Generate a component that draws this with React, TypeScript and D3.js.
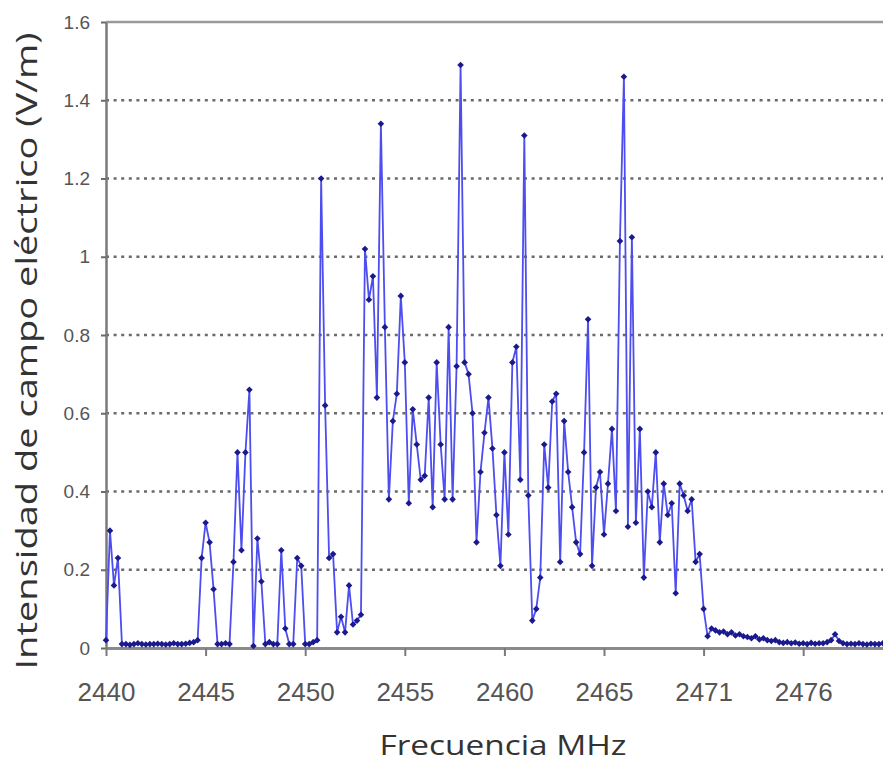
import React, { useRef, useEffect } from "react";
import * as d3 from "d3";

// ---- data, one small array per 5 MHz tick interval (25 samples each) ----
const seg2440 = [
  0.02, 0.3, 0.16, 0.23, 0.01, 0.01, 0.008, 0.01, 0.012, 0.01, 0.009, 0.01, 0.01,
  0.011, 0.01, 0.009, 0.01, 0.012, 0.01, 0.01, 0.011, 0.013, 0.015, 0.02, 0.23,
];
const seg2445 = [
  0.32, 0.27, 0.15, 0.01, 0.01, 0.012, 0.01, 0.22, 0.5, 0.25, 0.5, 0.66, 0.005,
  0.28, 0.17, 0.01, 0.015, 0.01, 0.01, 0.25, 0.05, 0.01, 0.01, 0.23, 0.21,
];
const seg2450 = [
  0.01, 0.01, 0.015, 0.02, 1.2, 0.62, 0.23, 0.24, 0.04, 0.08, 0.04, 0.16, 0.06,
  0.07, 0.085, 1.02, 0.89, 0.95, 0.64, 1.34, 0.82, 0.38, 0.58, 0.65, 0.9,
];
const seg2455 = [
  0.73, 0.37, 0.61, 0.52, 0.43, 0.44, 0.64, 0.36, 0.73, 0.52, 0.38, 0.82, 0.38,
  0.72, 1.49, 0.73, 0.7, 0.6, 0.27, 0.45, 0.55, 0.64, 0.51, 0.34, 0.21,
];
const seg2460 = [
  0.5, 0.29, 0.73, 0.77, 0.43, 1.31, 0.39, 0.07, 0.1, 0.18, 0.52, 0.41, 0.63,
  0.65, 0.22, 0.58, 0.45, 0.36, 0.27, 0.24, 0.5, 0.84, 0.21, 0.41, 0.45,
];
const seg2465 = [
  0.29, 0.42, 0.56, 0.35, 1.04, 1.46, 0.31, 1.05, 0.32, 0.56, 0.18, 0.4, 0.36,
  0.5, 0.27, 0.42, 0.34, 0.37, 0.14, 0.42, 0.39, 0.35, 0.38, 0.22, 0.24,
];
const seg2471 = [
  0.1, 0.03, 0.05, 0.045, 0.04, 0.042, 0.035, 0.04, 0.032, 0.035, 0.03, 0.028,
  0.025, 0.03, 0.022, 0.025, 0.02, 0.018, 0.02, 0.015, 0.013, 0.015, 0.012,
  0.014, 0.011,
];
const seg2476 = [
  0.012, 0.01, 0.013, 0.011, 0.012, 0.012, 0.015, 0.02, 0.035, 0.018, 0.012, 0.01,
  0.011, 0.01, 0.012, 0.01, 0.009, 0.011, 0.01, 0.01, 0.012, 0.01,
];

const series = [
  ...seg2440,
  ...seg2445,
  ...seg2450,
  ...seg2455,
  ...seg2460,
  ...seg2465,
  ...seg2471,
  ...seg2476,
];

const xTickLabels = ["2440", "2445", "2450", "2455", "2460", "2465", "2471", "2476"];
const yTickValues = [0, 0.2, 0.4, 0.6, 0.8, 1, 1.2, 1.4, 1.6];
const yTickLabels = ["0", "0.2", "0.4", "0.6", "0.8", "1", "1.2", "1.4", "1.6"];
const gridValues = [0.2, 0.4, 0.6, 0.8, 1, 1.2, 1.4];

const xTitle = "Frecuencia MHz";
const yTitle = "Intensidad de campo eléctrico (V/m)";

export default function App() {
  const ref = useRef<SVGSVGElement>(null);

  useEffect(() => {
    const svg = d3.select(ref.current);
    svg.selectAll("*").remove();

    // ---- dimensions ----
    const width = 883;
    const left = 106;
    const top = 22;
    const bottom = 648;
    const perTick = seg2440.length;
    const tickGap = 99.6;
    const step = tickGap / perTick;

    // ---- scales ----
    const xScale = d3
      .scaleLinear()
      .domain([0, series.length - 1])
      .range([left, left + (series.length - 1) * step]);

    const yScale = d3.scaleLinear().domain([0, 1.6]).range([bottom, top]);

    // ---- gridlines ----
    svg
      .append("g")
      .selectAll("line")
      .data(gridValues)
      .join("line")
      .attr("x1", left)
      .attr("x2", width)
      .attr("y1", (d) => yScale(d))
      .attr("y2", (d) => yScale(d))
      .attr("stroke", "#6a6a6a")
      .attr("stroke-width", 2.4)
      .attr("stroke-dasharray", "3 4.6");

    // top border of plot area
    svg
      .append("line")
      .attr("x1", left)
      .attr("x2", width)
      .attr("y1", yScale(1.6))
      .attr("y2", yScale(1.6))
      .attr("stroke", "#9a9a9a")
      .attr("stroke-width", 2.5);

    // ---- axes ----
    const yAxis = svg
      .append("g")
      .attr("transform", `translate(${left},0)`)
      .call(
        d3
          .axisLeft(yScale)
          .tickValues(yTickValues)
          .tickFormat((d, i) => yTickLabels[i])
          .tickSize(5)
          .tickSizeOuter(0)
          .tickPadding(11)
      );
    yAxis.select(".domain").attr("stroke", "#7a7a7a").attr("stroke-width", 2.5);
    yAxis.selectAll(".tick line").attr("stroke", "#6a6a6a").attr("stroke-width", 2);
    yAxis
      .selectAll(".tick text")
      .attr("fill", "#555")
      .style("font-family", "'Liberation Sans', Arial, sans-serif")
      .style("font-size", "19px");

    const xAxis = svg
      .append("g")
      .attr("transform", `translate(0,${bottom})`)
      .call(
        d3
          .axisBottom(xScale)
          .tickValues(xTickLabels.map((_, i) => i * perTick))
          .tickFormat((d, i) => xTickLabels[i])
          .tickSize(8)
          .tickSizeOuter(0)
          .tickPadding(27)
      );
    xAxis.select(".domain").attr("stroke", "#8a8a8a").attr("stroke-width", 3);
    xAxis.selectAll(".tick line").attr("stroke", "#7a7a7a").attr("stroke-width", 2);
    xAxis
      .selectAll(".tick text")
      .attr("fill", "#555")
      .style("font-family", "'Liberation Sans', Arial, sans-serif")
      .style("font-size", "26px");

    // ---- data ----
    const lineGen = d3
      .line<number>()
      .x((d, i) => xScale(i))
      .y((d) => yScale(d));

    svg
      .append("path")
      .datum(series)
      .attr("d", lineGen)
      .attr("fill", "none")
      .attr("stroke", "#4d4df0")
      .attr("stroke-width", 1.8)
      .attr("stroke-linejoin", "round");

    const diamond = "M0,-3.3L3.3,0L0,3.3L-3.3,0Z";
    svg
      .append("g")
      .selectAll("path")
      .data(series)
      .join("path")
      .attr("d", diamond)
      .attr("transform", (d, i) => `translate(${xScale(i)},${yScale(d)})`)
      .attr("fill", "#1a1a8e");

    // ---- titles ----
    svg
      .append("text")
      .attr("x", 503)
      .attr("y", 755)
      .attr("text-anchor", "middle")
      .attr("textLength", 247)
      .attr("lengthAdjust", "spacingAndGlyphs")
      .attr("fill", "#333")
      .style("font-family", "'Open Sans', sans-serif")
      .style("font-size", "28px")
      .text(xTitle);

    svg
      .append("text")
      .attr("transform", "translate(37,351) rotate(-90)")
      .attr("text-anchor", "middle")
      .attr("textLength", 637)
      .attr("lengthAdjust", "spacingAndGlyphs")
      .attr("fill", "#333")
      .style("font-family", "'Open Sans', sans-serif")
      .style("font-size", "29px")
      .text(yTitle);
  }, []);

  return (
    <div style={{ position: "absolute", left: 0, top: 0 }}>
      <svg ref={ref} width={883} height={766} style={{ display: "block", background: "#fff" }} />
    </div>
  );
}
